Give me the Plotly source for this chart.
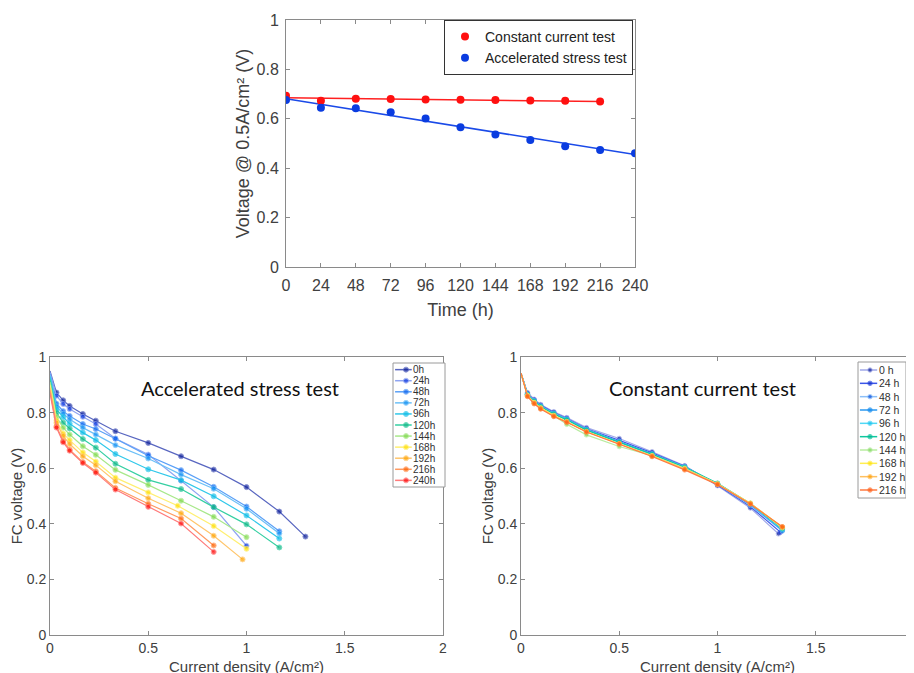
import plotly.graph_objects as go

# ---------------- data: top chart (voltage @ 0.5 A/cm2 vs time) ----------------
time_h = [0, 24, 48, 72, 96, 120, 144, 168, 192, 216, 240]
cc_time = [0, 24, 48, 72, 96, 120, 144, 168, 192, 216]
cc_voltage = [0.693, 0.673, 0.681, 0.680, 0.678, 0.677, 0.676, 0.674, 0.673, 0.670]
ast_time = [0, 24, 48, 72, 96, 120, 144, 168, 192, 216, 240]
ast_voltage = [0.676, 0.645, 0.643, 0.627, 0.601, 0.566, 0.536, 0.514, 0.489, 0.474, 0.461]
cc_fit_time = [0, 216]
cc_fit_voltage = [0.685, 0.670]
ast_fit_time = [0, 240]
ast_fit_voltage = [0.681, 0.455]

# ---------------- data: accelerated stress test polarisation curves ----------------
ast_labels = ["0h", "24h", "48h", "72h", "96h", "120h", "144h", "168h", "192h", "216h", "240h"]
ast_current = [0, 0.033, 0.067, 0.1, 0.167, 0.233, 0.333, 0.5, 0.667, 0.833, 1.0, 1.167, 1.3]
ast_current_168 = [0, 0.033, 0.067, 0.1, 0.167, 0.233, 0.333, 0.5, 0.65, 0.833, 1.0]
ast_current_192 = [0, 0.033, 0.067, 0.1, 0.167, 0.233, 0.333, 0.5, 0.667, 0.833, 0.98]
ast_v_0h = [0.950, 0.872, 0.844, 0.824, 0.795, 0.771, 0.733, 0.691, 0.643, 0.595, 0.532, 0.444, 0.354]
ast_v_24h = [0.945, 0.861, 0.831, 0.813, 0.785, 0.759, 0.707, 0.649, 0.555, 0.460, 0.321]
ast_v_48h = [0.940, 0.832, 0.805, 0.788, 0.759, 0.741, 0.706, 0.645, 0.593, 0.533, 0.462, 0.373]
ast_v_72h = [0.935, 0.822, 0.796, 0.776, 0.746, 0.721, 0.683, 0.635, 0.577, 0.526, 0.454, 0.365]
ast_v_96h = [0.930, 0.812, 0.784, 0.760, 0.728, 0.701, 0.651, 0.596, 0.557, 0.499, 0.430, 0.347]
ast_v_120h = [0.920, 0.799, 0.764, 0.743, 0.705, 0.674, 0.616, 0.558, 0.525, 0.460, 0.398, 0.315]
ast_v_144h = [0.910, 0.784, 0.746, 0.721, 0.679, 0.648, 0.594, 0.540, 0.483, 0.425, 0.352]
ast_v_168h = [0.900, 0.772, 0.725, 0.701, 0.657, 0.624, 0.566, 0.513, 0.465, 0.392, 0.310]
ast_v_192h = [0.890, 0.763, 0.716, 0.687, 0.643, 0.611, 0.553, 0.492, 0.438, 0.357, 0.272]
ast_v_216h = [0.880, 0.751, 0.698, 0.667, 0.622, 0.589, 0.529, 0.472, 0.419, 0.322]
ast_v_240h = [0.870, 0.746, 0.693, 0.663, 0.619, 0.584, 0.523, 0.461, 0.401, 0.299]
ast_marker_colors = ["#0d1f9a", "#0a36e0", "#0b63f0", "#0d8ff5", "#0bbce8", "#0db585",
                     "#7fd94a", "#ffdf00", "#ffa500", "#ff6200", "#ff0a0a"]
ast_line_colors = ["#5866c0", "#8ea4f2", "#5aa0f7", "#6cc0f8", "#30c8ea", "#35cfa2",
                   "#a8e88a", "#ffef70", "#ffc56a", "#ff9a60", "#ff7a7a"]

# ---------------- data: constant current test polarisation curves ----------------
cct_labels = ["0 h", "24 h", "48 h", "72 h", "96 h", "120 h", "144 h", "168 h", "192 h", "216 h"]
cct_current = [0, 0.033, 0.067, 0.1, 0.167, 0.233, 0.333, 0.5, 0.667, 0.833, 1.0, 1.167, 1.33]
cct_current_0h = [0, 0.033, 0.067, 0.1, 0.167, 0.233, 0.333, 0.5, 0.667, 0.833, 1.0, 1.167, 1.31]
cct_current_24h = [0, 0.033, 0.067, 0.1, 0.167, 0.233, 0.333, 0.5, 0.667, 0.833, 1.0, 1.167, 1.32]
cct_v_0h = [0.942, 0.872, 0.848, 0.829, 0.803, 0.782, 0.746, 0.707, 0.659, 0.609, 0.537, 0.457, 0.364]
cct_v_24h = [0.942, 0.868, 0.845, 0.826, 0.800, 0.779, 0.742, 0.700, 0.655, 0.607, 0.540, 0.462, 0.370]
cct_v_48h = [0.942, 0.866, 0.843, 0.824, 0.798, 0.777, 0.740, 0.697, 0.652, 0.605, 0.542, 0.466, 0.374]
cct_v_72h = [0.942, 0.865, 0.842, 0.823, 0.797, 0.776, 0.739, 0.695, 0.651, 0.604, 0.544, 0.469, 0.377]
cct_v_96h = [0.942, 0.864, 0.841, 0.822, 0.796, 0.775, 0.738, 0.694, 0.650, 0.604, 0.545, 0.471, 0.380]
cct_v_120h = [0.942, 0.864, 0.840, 0.821, 0.795, 0.774, 0.737, 0.693, 0.650, 0.603, 0.546, 0.473, 0.383]
cct_v_144h = [0.942, 0.862, 0.836, 0.816, 0.789, 0.758, 0.720, 0.678, 0.645, 0.600, 0.544, 0.474, 0.385]
cct_v_168h = [0.942, 0.861, 0.836, 0.817, 0.790, 0.768, 0.732, 0.688, 0.645, 0.598, 0.543, 0.474, 0.387]
cct_v_192h = [0.942, 0.860, 0.834, 0.815, 0.788, 0.767, 0.731, 0.688, 0.644, 0.597, 0.543, 0.473, 0.389]
cct_v_216h = [0.942, 0.858, 0.832, 0.813, 0.786, 0.765, 0.730, 0.687, 0.642, 0.594, 0.541, 0.471, 0.389]
cct_marker_colors = ["#0d1f9a", "#0d2bc8", "#0a4fe0", "#0a86f0", "#10c0f0", "#00b890",
                     "#80d860", "#ffe000", "#ffa000", "#ff5a10"]
cct_line_colors = ["#a0a8e8", "#3a55e8", "#8cc0f8", "#2a98f0", "#50d8f5", "#10c8a0",
                   "#b8eca0", "#ffee50", "#ffc060", "#ff7a40"]

ast_x = [ast_current[:13], ast_current[:11], ast_current[:12], ast_current[:12], ast_current[:12],
         ast_current[:12], ast_current[:11], ast_current_168, ast_current_192,
         ast_current[:10], ast_current[:10]]
ast_y = [ast_v_0h, ast_v_24h, ast_v_48h, ast_v_72h, ast_v_96h, ast_v_120h,
         ast_v_144h, ast_v_168h, ast_v_192h, ast_v_216h, ast_v_240h]
cct_x = [cct_current_0h, cct_current_24h] + [cct_current] * 8
cct_y = [cct_v_0h, cct_v_24h, cct_v_48h, cct_v_72h, cct_v_96h, cct_v_120h,
         cct_v_144h, cct_v_168h, cct_v_192h, cct_v_216h]

# ---------------- layout helpers ----------------
W, H = 914, 673
OFF = 8  # the page places the figure 8 px from the window's top-left corner


def dx(a, b):
    return [max((a - OFF) / W, 0.0), min((b - OFF) / W, 1.0)]


def dy(top, bottom):
    return [1 - (bottom - OFF) / H, 1 - (top - OFF) / H]


FONT = "Liberation Sans, Arial, sans-serif"
AX_LINE = "#8a8a8a"
TXT = "#404040"

fig = go.Figure()

# ---------------- top chart ----------------
fig.add_trace(go.Scatter(x=cc_fit_time, y=cc_fit_voltage, mode="lines",
                         line=dict(color="#ff2020", width=1.5), showlegend=False,
                         xaxis="x", yaxis="y", hoverinfo="skip"))
fig.add_trace(go.Scatter(x=ast_fit_time, y=ast_fit_voltage, mode="lines",
                         line=dict(color="#1a4ae8", width=1.5), showlegend=False,
                         xaxis="x", yaxis="y", hoverinfo="skip"))
fig.add_trace(go.Scatter(x=cc_time, y=cc_voltage, mode="markers", name="Constant current test",
                         marker=dict(color="#ff1010", size=8), xaxis="x", yaxis="y"))
fig.add_trace(go.Scatter(x=ast_time, y=ast_voltage, mode="markers", name="Accelerated stress test",
                         marker=dict(color="#0a3ce0", size=8), xaxis="x", yaxis="y"))

# ---------------- bottom-left chart ----------------
for xs, ys, lc, mc, lab in zip(ast_x, ast_y, ast_line_colors, ast_marker_colors, ast_labels):
    fig.add_trace(go.Scatter(x=xs, y=ys, mode="lines+markers", name=lab, showlegend=False,
                             line=dict(color=lc, width=1.2),
                             marker=dict(color=mc, size=[0] + [5] * (len(xs) - 1)),
                             xaxis="x2", yaxis="y2"))

# ---------------- bottom-right chart ----------------
for xs, ys, lc, mc, lab in zip(cct_x, cct_y, cct_line_colors, cct_marker_colors, cct_labels):
    fig.add_trace(go.Scatter(x=xs, y=ys, mode="lines+markers", name=lab, showlegend=False,
                             line=dict(color=lc, width=1.2),
                             marker=dict(color=mc, size=[0] + [4.5] * (len(xs) - 1)),
                             xaxis="x3", yaxis="y3"))

# ---------------- manual compact legends (hidden axes) ----------------
annotations = []
for i, (lab, lc, mc) in enumerate(zip(ast_labels, ast_line_colors, ast_marker_colors)):
    fig.add_trace(go.Scatter(x=[0.04, 0.25, 0.36], y=[i + 1] * 3, mode="lines+markers",
                             line=dict(color=lc, width=1.5), marker=dict(color=mc, size=[0, 5, 0]),
                             showlegend=False, hoverinfo="skip", xaxis="x4", yaxis="y4"))
    annotations.append(dict(x=0.37, y=i + 1, xref="x4", yref="y4", text=lab, showarrow=False,
                            xanchor="left", yanchor="middle", borderpad=0,
                            font=dict(family=FONT, size=10, color="#303030")))
for i, (lab, lc, mc) in enumerate(zip(cct_labels, cct_line_colors, cct_marker_colors)):
    fig.add_trace(go.Scatter(x=[0.04, 0.25, 0.40], y=[i + 1] * 3, mode="lines+markers",
                             line=dict(color=lc, width=1.5), marker=dict(color=mc, size=[0, 4.5, 0]),
                             showlegend=False, hoverinfo="skip", xaxis="x5", yaxis="y5"))
    annotations.append(dict(x=0.41, y=i + 1, xref="x5", yref="y5", text=lab, showarrow=False,
                            xanchor="left", yanchor="middle", borderpad=0,
                            font=dict(family=FONT, size=10.5, color="#303030")))

# chart titles inside bottom plots
annotations.append(dict(x=0.966, y=0.888, xref="x2", yref="y2", text="Accelerated stress test",
                        showarrow=False, font=dict(family="Lato, Open Sans, sans-serif", size=20, color="#111111")))
annotations.append(dict(x=0.924, y=0.888, xref="x3", yref="y3", text="Constant current test",
                        showarrow=False, font=dict(family="Lato, Open Sans, sans-serif", size=20, color="#111111")))

shapes = [
    dict(type="rect", xref="x4 domain", yref="y4 domain", x0=0, x1=1, y0=0, y1=1,
         line=dict(color="#9a9a9a", width=1), fillcolor="rgba(0,0,0,0)"),
    dict(type="rect", xref="x5 domain", yref="y5 domain", x0=0, x1=1, y0=0, y1=1,
         line=dict(color="#9a9a9a", width=1), fillcolor="rgba(0,0,0,0)"),
]


def axis_style(**kw):
    base = dict(showline=True, linecolor=AX_LINE, linewidth=1, mirror="allticks",
                ticks="inside", ticklen=4, tickcolor=AX_LINE, showgrid=False, zeroline=False,
                automargin=False,
                tickfont=dict(family=FONT, size=14, color=TXT))
    base.update(kw)
    return base


hidden = dict(visible=False, showgrid=False, zeroline=False, fixedrange=True)

fig.update_layout(
    width=W, height=H,
    margin=dict(l=0, r=0, t=0, b=0, autoexpand=False),
    paper_bgcolor="white", plot_bgcolor="white",
    showlegend=True,
    legend=dict(x=(444 - OFF) / W, y=1 - (20 - OFF) / H, xanchor="left", yanchor="top",
                bordercolor="#333333", borderwidth=1, bgcolor="white",
                font=dict(family=FONT, size=14, color="#222222"),
                itemwidth=30, tracegroupgap=0),
    xaxis=axis_style(domain=dx(286, 635), range=[0, 240], tickvals=time_h, ticklabelstandoff=4,
                     tickfont=dict(family=FONT, size=16, color=TXT),
                     title=dict(text="Time (h)", font=dict(family=FONT, size=18, color=TXT), standoff=10),
                     anchor="y"),
    yaxis=axis_style(domain=dy(20, 267), range=[0, 1], dtick=0.2, ticklabelstandoff=3,
                     tickfont=dict(family=FONT, size=16, color=TXT),
                     title=dict(text="Voltage @ 0.5A/cm² (V)", font=dict(family=FONT, size=18, color=TXT), standoff=2),
                     anchor="x"),
    xaxis2=axis_style(domain=dx(50, 443), range=[0, 2], dtick=0.5,
                      title=dict(text="Current density (A/cm²)", font=dict(family=FONT, size=15, color=TXT), standoff=6),
                      anchor="y2"),
    yaxis2=axis_style(domain=dy(357, 635), range=[0, 1], dtick=0.2, ticklabelstandoff=0,
                      title=dict(text="FC voltage (V)", font=dict(family=FONT, size=15, color=TXT), standoff=0),
                      anchor="x2"),
    xaxis3=axis_style(domain=dx(521, 914), range=[0, 2], dtick=0.5,
                      title=dict(text="Current density (A/cm²)", font=dict(family=FONT, size=15, color=TXT), standoff=6),
                      anchor="y3"),
    yaxis3=axis_style(domain=dy(357, 635), range=[0, 1], dtick=0.2, ticklabelstandoff=0,
                      title=dict(text="FC voltage (V)", font=dict(family=FONT, size=15, color=TXT), standoff=0),
                      anchor="x3"),
    xaxis4=dict(domain=dx(393, 445), range=[0, 1], anchor="y4", **hidden),
    yaxis4=dict(domain=dy(363, 487), range=[11.6, 0.4], anchor="x4", **hidden),
    xaxis5=dict(domain=dx(858, 906), range=[0, 1], anchor="y5", **hidden),
    yaxis5=dict(domain=dy(362, 498), range=[10.6, 0.4], anchor="x5", **hidden),
    annotations=annotations,
    shapes=shapes,
)

fig.write_html("out.html")
